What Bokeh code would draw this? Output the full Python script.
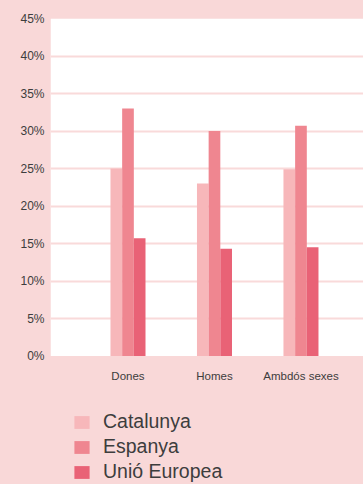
from bokeh.plotting import figure
from bokeh.models import (ColumnDataSource, FixedTicker, Legend, LegendItem,
                          GlobalInlineStyleSheet, BoxAnnotation)
from bokeh.core.properties import value
from bokeh.transform import dodge
from bokeh.embed import file_html
from bokeh.resources import INLINE

# ---- data ----
categories = ["Dones", "Homes", "Ambdós sexes"]
series_names = ["Catalunya", "Espanya", "Unió Europea"]
catalunya = [25.0, 23.0, 24.9]
espanya = [33.0, 30.0, 30.7]
unio_europea = [15.7, 14.3, 14.5]
y_ticks = [0, 5, 10, 15, 20, 25, 30, 35, 40, 45]
y_tick_labels = ["0%", "5%", "10%", "15%", "20%", "25%", "30%", "35%", "40%", "45%"]

colors = ["#f7b7ba", "#ef8690", "#e96276"]
BG = "#f9d8d8"
TEXT = "#3d3d3d"
FONT = "Liberation Sans"

xpos = [i + 1 for i in range(len(categories))]
source = ColumnDataSource(dict(x=xpos, cat=catalunya, esp=espanya, ue=unio_europea))

y_max = y_ticks[-1]
p = figure(width=363, height=484, output_backend="svg", toolbar_location=None,
           x_range=(0.104, 3.723), y_range=(-17.13, y_max),
           x_axis_location=None,
           min_border_left=50, min_border_right=0, min_border_top=18, min_border_bottom=0)
p.stylesheets = [GlobalInlineStyleSheet(css="html, body { background: %s; }" % BG)]
p.border_fill_color = BG
p.background_fill_color = BG
p.outline_line_color = None

# white plotting area (0% .. 45%)
p.add_layout(BoxAnnotation(bottom=y_ticks[0], top=y_max, fill_color="white", fill_alpha=1,
                           line_color=None, level="image"))

bw = 0.135
renderers = []
for i, (field, col) in enumerate(zip(["cat", "esp", "ue"], colors)):
    r = p.vbar(x=dodge("x", (i - 1) * bw), top=field, width=bw, source=source,
               fill_color=col, line_color=None)
    renderers.append(r)

# category labels under the bars
lab_src = ColumnDataSource(dict(x=xpos, text=categories))
p.text(x="x", y=-2.6, text="text", source=lab_src, text_align="center", text_baseline="middle",
       text_font=value(FONT), text_font_size="11.5px", text_color=TEXT)

# y axis
p.yaxis.ticker = FixedTicker(ticks=y_ticks)
p.yaxis.major_label_overrides = {t: l for t, l in zip(y_ticks, y_tick_labels)}
ax = p.yaxis[0]
ax.axis_line_color = None
ax.major_tick_line_color = None
ax.minor_tick_line_color = None
ax.major_tick_out = 0
ax.major_label_text_color = TEXT
ax.major_label_text_font = FONT
ax.major_label_text_font_size = "12px"
ax.major_label_standoff = 6

p.xgrid.grid_line_color = None
p.ygrid.ticker = FixedTicker(ticks=y_ticks[1:-1])
p.ygrid.grid_line_color = "#f9dada"
p.ygrid.grid_line_width = 2

legend = Legend(items=[LegendItem(label=n, renderers=[r]) for n, r in zip(series_names, renderers)],
                location=(22, 0), orientation="vertical",
                glyph_width=19, glyph_height=16, label_height=25, spacing=0,
                label_standoff=12, padding=0, margin=0,
                border_line_color=None, background_fill_alpha=0,
                label_text_font=FONT, label_text_font_size="19.5px",
                label_text_color=TEXT)
p.add_layout(legend, "center")

open("out.html", "w").write(file_html(p, INLINE))
